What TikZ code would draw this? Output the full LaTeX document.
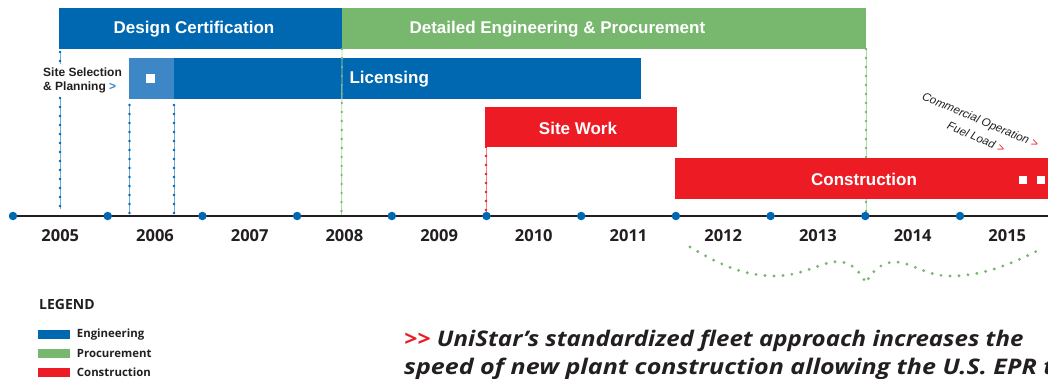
\documentclass[tikz,border=0pt]{standalone}
\usepackage{fontspec}
\usepackage{graphicx}
\setmainfont{Liberation Sans}
\newfontfamily\humanist{Open Sans}
\usetikzlibrary{positioning, calc}
\definecolor{engblue}{RGB}{0,103,177}
\definecolor{siteblue}{RGB}{61,135,199}
\definecolor{procgreen}{RGB}{120,183,110}
\definecolor{conred}{RGB}{237,28,36}
\definecolor{axisgray}{RGB}{35,31,32}

\begin{document}
\begin{tikzpicture}[x=1pt, y=-1pt,
  bar/.style={inner sep=0pt, outer sep=0pt, minimum height=41pt, anchor=north west},
  bartext/.style={text=white, font=\bfseries\fontsize{17}{20}\selectfont},
  year/.style={font=\humanist\bfseries\fontsize{16.5}{18}\selectfont, text=axisgray},
  tick/.style={circle, fill=engblue, inner sep=0pt, minimum size=8.5pt},
  guide/.style={line width=0.8pt, draw=#1!55, postaction={draw=#1, line width=2.6pt, dash pattern=on 0pt off 9pt, line cap=round}},
  swatch/.style={minimum width=32pt, minimum height=9pt, inner sep=0pt, anchor=west},
  key/.style={font=\humanist\bfseries\fontsize{11.4}{13}\selectfont, text=axisgray, anchor=west},
  mark/.style={fill=white, inner sep=0pt, minimum size=#1},
  milestone/.style={rotate=-23, inner sep=0pt, font=\itshape\fontsize{11.5}{12}\selectfont, text=axisgray},
  slogan/.style={anchor=base west, inner sep=0pt, font=\humanist\bfseries\itshape\fontsize{21.5}{24}\selectfont, text=axisgray}]
  \useasboundingbox (0,0) rectangle (1048,378);
  \clip (0,0) rectangle (1048,378);

  \node[bar, fill=engblue, minimum width=283pt] (design) at (59,8) {};
  \node[bar, fill=procgreen, minimum width=524pt] (procure) at (342,8) {};
  \node[bar, fill=siteblue, minimum width=45pt] (siteplan) at (129,58) {};
  \node[bar, fill=engblue, minimum width=467pt] (licensing) at (174,58) {};
  \node[bar, fill=conred, minimum width=192pt, minimum height=40pt] (sitework) at (485,107) {};

  \draw[guide=engblue] (60,52) -- (60,64) (60,98) -- (60,209);
  \draw[guide=engblue] (129.5,105) -- (129.5,214);
  \draw[guide=engblue] (174,105) -- (174,214);
  \draw[guide=procgreen] (procure.south west) -- (341.5,216);
  \draw[guide=conred] (sitework.south west) ++(1,0) -- (486,216);
  \draw[guide=procgreen] (procure.south east) -- (866,216);

  \node[bar, fill=conred, minimum width=373pt] (construction) at (675,158) {};

  \node[bartext] (designlbl) at (194,29) {Design Certification};
  \node[bartext, anchor=west] (procurelbl) at (406,29) {Detailed Engineering \& Procurement};
  \node[bartext, anchor=west] (licensinglbl) at (346,79) {Licensing};
  \node[bartext] (siteworklbl) at (578,128) {Site Work};
  \node[bartext] (constructionlbl) at (864,179) {Construction};

  \node[mark=9pt] (sitemark) at (150.5,78.5) {};
  \node[mark=8pt] (fuelmark) at (1023,180) {};
  \node[mark=8pt] (opmark) at (1041,180) {};

  \node[anchor=base west, inner sep=0pt, font=\bfseries\fontsize{12}{13}\selectfont, text=axisgray] (selectlbl) at (43,76.5) {Site Selection};
  \node[anchor=base west, inner sep=0pt, font=\bfseries\fontsize{12}{13}\selectfont, text=axisgray] (planlbl) at (43,90.5) {\& Planning \textcolor{siteblue}{>}};

  \draw[axisgray, line width=1.8pt] (13,216) coordinate (axisstart) -- (1048,216) coordinate (axisend);
  \foreach \i in {0,...,10}
    \node[tick] (t\i) at (13+94.7*\i,216) {};
  \foreach \y [count=\i from 0] in {2005,...,2015}
    \node[year] (y\y) at (60.3+94.7*\i,236) {\y};

  \draw[procgreen, line width=3.2pt, dash pattern=on 0pt off 9pt, line cap=round]
    (690,247) .. controls (720,265) and (745,276) .. (775,276)
    .. controls (805,276) and (825,259) .. (842,262)
    .. controls (855,264) and (862,276) .. (866,283)
    .. controls (870,274) and (880,262) .. (895,262)
    .. controls (912,262) and (925,276) .. (950,276)
    .. controls (985,276) and (1015,262) .. (1037,251);

  \node[milestone] (oplbl) at (980,121) {Commercial Operation \textcolor{conred}{>}};
  \node[milestone] (fuellbl) at (976,137) {Fuel Load \textcolor{conred}{>}};

  \node[anchor=west, inner sep=0pt, font=\humanist\bfseries\fontsize{14}{15}\selectfont, text=axisgray] (legend) at (39,304) {LEGEND};
  \node[swatch, fill=engblue] (engkey) at (38,334.5) {};
  \node[swatch, fill=procgreen] (prockey) at (38,353.5) {};
  \node[swatch, fill=conred] (conkey) at (38,372.5) {};
  \node[key] (englbl) [right=3pt of engkey] {Engineering};
  \node[key] (proclbl) [right=3pt of prockey] {Procurement};
  \node[key] (conlbl) [right=3pt of conkey] {Construction};

  \node[slogan] (quote) at (404,346) {\scalebox{1.12}[1]{\textcolor{conred}{>>} UniStar’s standardized fleet approach increases the}};
  \node[slogan] (quotecont) at (404,374) {\scalebox{1.165}[1]{speed of new plant construction allowing the U.S. EPR to}};
\end{tikzpicture}
\end{document}
